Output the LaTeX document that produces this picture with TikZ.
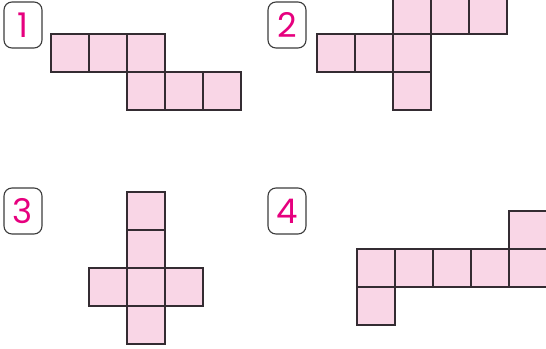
\documentclass[tikz,border=0pt]{standalone}
\usepackage{fontspec}
\setmainfont{Poppins}
\definecolor{cellpink}{RGB}{249,214,230}
\definecolor{cellline}{RGB}{52,44,50}
\definecolor{numpink}{RGB}{230,0,126}
\definecolor{tagline}{RGB}{60,60,60}

\tikzset{
  cell/.style={draw=cellline, fill=cellpink, line width=1.3pt, minimum size=38pt,
    inner sep=0pt, outer sep=0pt},
  tag/.style={draw=tagline, rounded corners=8pt, line width=1.1pt, minimum width=38pt,
    minimum height=46pt, inner sep=0pt, text=numpink, font=\fontsize{34}{34}\selectfont}
}

\begin{document}
\begin{tikzpicture}[x=1pt, y=-1pt]
\useasboundingbox (0,0) rectangle (546,348);
\clip (0,0) rectangle (546,348);

% ---------- number tags ----------
\node[tag] (tag1) at (23,25) {1};
\node[tag] (tag2) at (287,25) {2};
\node[tag] (tag3) at (23,211) {3};
\node[tag] (tag4) at (287,211) {4};

% ---------- net 1 ----------
\foreach \x/\y [count=\i] in {51/34, 89/34, 127/34, 127/72, 165/72, 203/72}
  \node[cell] (netA\i) at (\x+19,\y+19) {};

% ---------- net 2 ----------
\foreach \x/\y [count=\i] in {393/-4, 431/-4, 469/-4, 317/34, 355/34, 393/34, 393/72}
  \node[cell] (netB\i) at (\x+19,\y+19) {};

% ---------- net 3 ----------
\foreach \x/\y [count=\i] in {127/192, 127/230, 89/268, 127/268, 165/268, 127/306}
  \node[cell] (netC\i) at (\x+19,\y+19) {};

% ---------- net 4 ----------
\foreach \x/\y [count=\i] in {509/211, 357/249, 395/249, 433/249, 471/249, 509/249, 357/287}
  \node[cell] (netD\i) at (\x+19,\y+19) {};

\end{tikzpicture}
\end{document}
